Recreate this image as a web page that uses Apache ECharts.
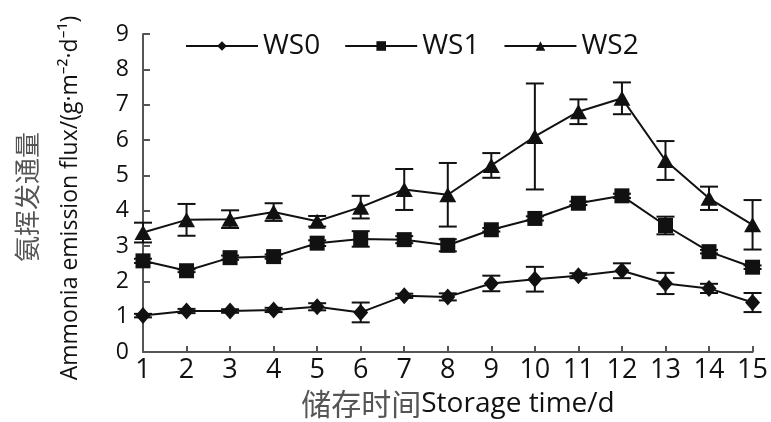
<!DOCTYPE html>
<html>
<head>
<meta charset="utf-8">
<script src="https://cdn.jsdelivr.net/npm/echarts@6/dist/echarts.min.js"></script>
<style>html,body{margin:0;padding:0;background:#fff}#c{width:771px;height:422px}</style>
</head>
<body>
<div id="c"></div>
<script>
var days = ['1','2','3','4','5','6','7','8','9','10','11','12','13','14','15'];
var ws0 = [1.03, 1.16, 1.16, 1.19, 1.28, 1.12, 1.59, 1.56, 1.94, 2.06, 2.16, 2.30, 1.94, 1.80, 1.40];
var ws1 = [2.58, 2.30, 2.67, 2.70, 3.08, 3.20, 3.18, 3.02, 3.46, 3.78, 4.21, 4.42, 3.58, 2.84, 2.40];
var ws2 = [3.38, 3.74, 3.76, 3.96, 3.70, 4.10, 4.60, 4.45, 5.28, 6.10, 6.80, 7.18, 5.42, 4.35, 3.60];
var ws0Err = [0.05, 0.06, 0.05, 0.06, 0.10, 0.28, 0.06, 0.10, 0.22, 0.35, 0.07, 0.21, 0.30, 0.13, 0.27];
var ws1Err = [0.06, 0.04, 0.06, 0.06, 0.08, 0.22, 0.10, 0.17, 0.05, 0.06, 0.05, 0.06, 0.25, 0.05, 0.05];
var ws2Err = [0.28, 0.45, 0.25, 0.25, 0.15, 0.32, 0.58, 0.90, 0.35, 1.50, 0.35, 0.45, 0.55, 0.33, 0.70];
var yTicks = [0, 9, 1];

var chart = echarts.init(document.getElementById('c'));
var FONT = '"Open Sans", "Noto Sans", sans-serif';

function errData(vals, errs) {
  return vals.map(function (v, i) { return [i, v - errs[i], v + errs[i]]; });
}
function errRender(params, api) {
  var x = api.value(0);
  var lo = api.coord([x, api.value(1)]);
  var hi = api.coord([x, api.value(2)]);
  var hw = 9;
  var st = { stroke: '#111', lineWidth: 2 };
  return {
    type: 'group',
    children: [
      { type: 'line', shape: { x1: lo[0], y1: lo[1], x2: hi[0], y2: hi[1] }, style: st },
      { type: 'line', shape: { x1: lo[0] - hw, y1: lo[1], x2: lo[0] + hw, y2: lo[1] }, style: st },
      { type: 'line', shape: { x1: hi[0] - hw, y1: hi[1], x2: hi[0] + hw, y2: hi[1] }, style: st }
    ]
  };
}
function errSeries(vals, errs) {
  return {
    type: 'custom', renderItem: errRender, data: errData(vals, errs),
    encode: { x: 0, y: [1, 2] }, z: 1, silent: true
  };
}
function lineSeries(name, vals, symbol, size) {
  return {
    name: name, type: 'line', data: vals, symbol: symbol, symbolSize: size,
    lineStyle: { color: '#111', width: 2 }, itemStyle: { color: '#111' },
    z: 3, animation: false
  };
}

chart.setOption({
  animation: false,
  grid: { left: 143, right: 14, top: 34, bottom: 70 },
  legend: {
    top: 27, left: 180, itemWidth: 72, itemHeight: 12, itemGap: 24,
    textStyle: { fontFamily: FONT, fontSize: 28, color: '#111', padding: [0, 0, 0, 0] },
    data: ['WS0', 'WS1', 'WS2']
  },
  xAxis: {
    type: 'category', data: days, boundaryGap: false,
    axisLine: { lineStyle: { color: '#555', width: 2 } },
    axisTick: { inside: true, length: 6, alignWithLabel: true, lineStyle: { color: '#555', width: 2 } },
    axisLabel: { fontFamily: FONT, fontSize: 27, color: '#111', margin: 5 },
    splitLine: { show: false }
  },
  yAxis: {
    type: 'value', min: yTicks[0], max: yTicks[1], interval: yTicks[2],
    axisLine: { show: true, lineStyle: { color: '#555', width: 2 } },
    axisTick: { show: true, inside: true, length: 7, lineStyle: { color: '#555', width: 2 } },
    axisLabel: { fontFamily: FONT, fontSize: 23, color: '#111', margin: 14 },
    splitLine: { show: false }
  },
  graphic: [
    {
      type: 'text', x: 27, y: 197, rotation: Math.PI / 2,
      style: { text: '氨挥发通量', fontFamily: '"Noto Sans CJK SC"', fontSize: 26, fill: '#555', align: 'center', verticalAlign: 'middle' }
    },
    {
      type: 'text', x: 70, y: 198, rotation: Math.PI / 2,
      style: { text: 'Ammonia emission flux/(g·m⁻²·d⁻¹)', fontFamily: FONT, fontSize: 23, fill: '#111', align: 'center', verticalAlign: 'middle' }
    },
    {
      type: 'text', x: 458, y: 404,
      style: {
        text: '{cn|储存时间}{en|Storage time/d}', align: 'center', verticalAlign: 'middle',
        rich: {
          cn: { fontFamily: '"Noto Sans CJK SC"', fontSize: 30, fill: '#555' },
          en: { fontFamily: FONT, fontSize: 28, fill: '#111' }
        }
      }
    }
  ],
  series: [
    errSeries(ws0, ws0Err), errSeries(ws1, ws1Err), errSeries(ws2, ws2Err),
    lineSeries('WS0', ws0, 'diamond', [15, 17]),
    lineSeries('WS1', ws1, 'rect', 15),
    lineSeries('WS2', ws2, 'triangle', [17, 15])
  ]
});
</script>
</body>
</html>
